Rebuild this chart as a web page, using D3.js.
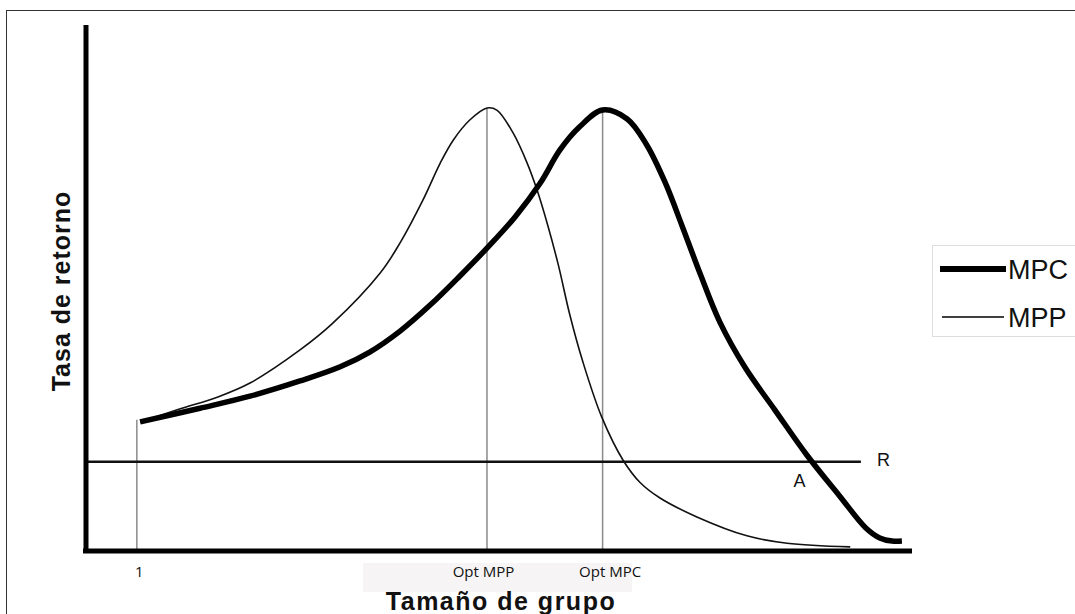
<!DOCTYPE html>
<html>
<head>
<meta charset="utf-8">
<script src="https://cdn.jsdelivr.net/npm/d3@7"></script>
<style>
  body { margin: 0; background: #fff; }
  svg { display: block; }
</style>
</head>
<body>
<div id="chart"></div>
<script>
// ******************** data (group size 0-100, rate of return 0-100) ********************
const mpcX = [6.6, 13.9, 20.0, 26.1, 31.0, 34.6, 38.3, 42.0, 45.6, 48.9, 52.3, 55.4, 57.8, 60.2, 63.0, 66.0, 68.4, 70.6, 72.8, 74.9, 77.3, 80.4, 84.0, 87.9, 91.9, 95.1, 96.8, 98.3, 99.5]
const mpcY = [24.4, 27.0, 29.3, 32.2, 34.9, 37.7, 41.7, 46.7, 52.2, 57.5, 63.4, 69.9, 76.2, 80.6, 83.8, 82.1, 77.1, 70.1, 61.3, 52.6, 43.4, 34.7, 26.7, 18.1, 10.3, 4.2, 2.3, 1.7, 1.7]

const mppX = [6.6, 11.5, 16.0, 20.0, 26.1, 30.1, 35.9, 38.3, 41.1, 43.2, 44.8, 46.8, 48.9, 50.1, 52.1, 53.8, 55.0, 56.3, 57.6, 59.0, 60.6, 62.9, 65.5, 67.6, 70.0, 74.5, 80.6, 85.5, 93.2]
const mppY = [24.4, 26.9, 29.1, 31.8, 38.1, 43.2, 52.8, 58.5, 66.7, 73.7, 78.1, 81.9, 84.2, 83.8, 79.4, 73.7, 68.6, 61.9, 54.3, 44.8, 35.8, 25.3, 17.1, 12.8, 9.9, 6.3, 2.7, 1.3, 0.6]

// marker lines at the x-axis labels
const markerLabels = ["1", "Opt MPP", "Opt MPC"]
const markerX = [6.2, 48.9, 63.0]
const markerTop = [24.8, 84.2, 83.8]

const rLevel = 16.8
const rEnd = 94.5
const aPoint = [86.4, 16.8]

const seriesNames = ["MPC", "MPP"]

// ******************** layout ********************
const width = 1075
const height = 614

const svg = d3.select("#chart")
  .append("svg")
  .attr("width", width)
  .attr("height", height)

const x = d3.scaleLinear().domain([0, 100]).range([86, 906])
const y = d3.scaleLinear().domain([0, 100]).range([550, 25])

// outer frame (runs off the right and bottom)
svg.append("rect")
  .attr("x", 6.5)
  .attr("y", 10.5)
  .attr("width", 1100)
  .attr("height", 640)
  .attr("fill", "none")
  .attr("stroke", "#333")
  .attr("stroke-width", 1)

// faint backdrop behind the opt labels
svg.append("rect")
  .attr("x", 363)
  .attr("y", 563)
  .attr("width", 269)
  .attr("height", 29)
  .attr("fill", "#f6f4f4")

// ******************** marker lines ********************
svg.selectAll(".marker")
  .data(markerX)
  .enter()
  .append("line")
  .attr("class", "marker")
  .attr("x1", d => x(d))
  .attr("x2", d => x(d))
  .attr("y1", (d, i) => y(markerTop[i]))
  .attr("y2", y(0))
  .attr("stroke", "#8a8a8a")
  .attr("stroke-width", 1.5)

// ******************** R line ********************
svg.append("line")
  .attr("x1", x(0))
  .attr("x2", x(rEnd))
  .attr("y1", y(rLevel))
  .attr("y2", y(rLevel))
  .attr("stroke", "#111")
  .attr("stroke-width", 2.5)

svg.append("text")
  .attr("x", x(rEnd) + 16)
  .attr("y", y(rLevel) + 4)
  .style("font-family", "'Liberation Sans', Arial, sans-serif")
  .style("font-size", "18px")
  .attr("fill", "#111")
  .text("R")

svg.append("text")
  .attr("x", x(aPoint[0]) - 1)
  .attr("y", y(aPoint[1]) + 25)
  .style("font-family", "'Liberation Sans', Arial, sans-serif")
  .style("font-size", "18px")
  .attr("fill", "#111")
  .text("A")

// ******************** curves ********************
const line = d3.line()
  .x(d => x(d[0]))
  .y(d => y(d[1]))
  .curve(d3.curveCatmullRom.alpha(0.5))

svg.append("path")
  .datum(mppX.map((v, i) => [v, mppY[i]]))
  .attr("d", line)
  .attr("fill", "none")
  .attr("stroke", "#111")
  .attr("stroke-width", 1.6)

svg.append("path")
  .datum(mpcX.map((v, i) => [v, mpcY[i]]))
  .attr("d", line)
  .attr("fill", "none")
  .attr("stroke", "#000")
  .attr("stroke-width", 5.5)
  .attr("stroke-linejoin", "round")

// ******************** axes ********************
svg.append("line")
  .attr("x1", x(0))
  .attr("x2", x(0))
  .attr("y1", y(100))
  .attr("y2", y(0) + 3)
  .attr("stroke", "#000")
  .attr("stroke-width", 5)

svg.append("line")
  .attr("x1", x(0) - 3)
  .attr("x2", x(100) + 6)
  .attr("y1", y(0) + 1)
  .attr("y2", y(0) + 1)
  .attr("stroke", "#000")
  .attr("stroke-width", 5)

const xAxis = d3.axisBottom(x)
  .tickValues(markerX)
  .tickFormat((d, i) => markerLabels[i])
  .tickSize(0)
  .tickPadding(16)

const xAxisG = svg.append("g")
  .attr("transform", "translate(0," + y(0) + ")")
  .call(xAxis)

xAxisG.select(".domain").remove()
xAxisG.selectAll("text")
  .attr("dx", (d, i) => [2, -4, 7][i])
  .style("font-family", "'Open Sans', sans-serif")
  .style("font-size", "15px")
  .attr("fill", "#111")

// ******************** axis titles ********************
svg.append("text")
  .attr("x", 501)
  .attr("y", 610)
  .attr("text-anchor", "middle")
  .style("font-family", "'Liberation Sans', Arial, sans-serif")
  .style("font-weight", "bold")
  .style("font-size", "25px")
  .style("letter-spacing", "1.5px")
  .attr("fill", "#111")
  .text("Tamaño de grupo")

svg.append("text")
  .attr("transform", "translate(70, 291) rotate(-90)")
  .attr("text-anchor", "middle")
  .style("font-family", "'Liberation Sans', Arial, sans-serif")
  .style("font-weight", "bold")
  .style("font-size", "25px")
  .style("letter-spacing", "1px")
  .attr("fill", "#111")
  .text("Tasa de retorno")

// ******************** legend ********************
const legend = svg.append("g")

legend.append("rect")
  .attr("x", 932.5)
  .attr("y", 245.5)
  .attr("width", 160)
  .attr("height", 91)
  .attr("fill", "#fff")
  .attr("stroke", "#ddd")

const legendWidths = [6, 1.6]
const legendY = [269, 317]

seriesNames.forEach((name, i) => {
  legend.append("line")
    .attr("x1", 940 + i * 2)
    .attr("x2", 1006 - i * 2)
    .attr("y1", legendY[i])
    .attr("y2", legendY[i])
    .attr("stroke", "#000")
    .attr("stroke-width", legendWidths[i])

  legend.append("text")
    .attr("x", 1008)
    .attr("y", legendY[i] + 10)
    .style("font-family", "'Liberation Sans', Arial, sans-serif")
    .style("font-size", "27px")
    .attr("fill", "#111")
    .text(name)
})
</script>
</body>
</html>
